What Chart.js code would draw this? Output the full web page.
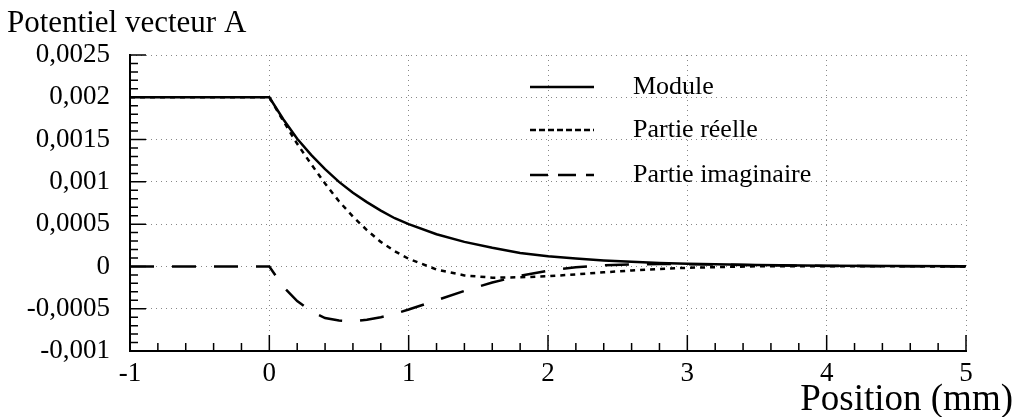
<!DOCTYPE html>
<html>
<head>
<meta charset="utf-8">
<script src="https://cdn.jsdelivr.net/npm/chart.js@4/dist/chart.umd.min.js"></script>
<style>
  html, body { margin: 0; padding: 0; background: #fff; }
  #wrap { width: 1018px; height: 417px; }
</style>
</head>
<body>
<div id="wrap"><canvas id="potChart"></canvas></div>
<script>
// Position (mm)
const positions = [-1, 0, 0.1, 0.2, 0.3, 0.4, 0.5, 0.6, 0.7, 0.8, 0.9, 1.0, 1.2, 1.4, 1.6, 1.8, 2.0, 2.2, 2.4, 2.6, 2.8, 3.0, 3.5, 4.0, 4.5, 5.0];
// Potentiel vecteur A
const moduleValues = [0.002, 0.002, 0.00174, 0.00151, 0.00132, 0.00115, 0.00100, 0.00087, 0.00076, 0.00066, 0.00057, 0.00050, 0.00038, 0.00029, 0.00022, 0.00016, 0.00012, 0.000094, 0.000071, 0.000054, 0.000041, 0.000031, 0.000016, 0.000008, 0.000004, 0.000002];
const realValues = [0.002, 0.002, 0.00172, 0.00145, 0.00121, 0.00098, 0.00077, 0.00059, 0.00043, 0.00029, 0.00018, 0.00009, -0.000036, -0.000106, -0.000133, -0.000128, -0.000116, -0.000094, -0.00007, -0.000048, -0.00003, -0.000016, 0.000002, 0.000003, 0.000001, 0];
const imagValues = [0, 0, -0.00024, -0.00041, -0.00053, -0.00061, -0.00064, -0.00065, -0.00063, -0.00060, -0.00056, -0.00051, -0.00040, -0.00029, -0.00019, -0.00011, -0.00005, -0.00001, 0.000013, 0.000024, 0.000028, 0.000027, 0.000015, 0.000005, 0.000002, 0];

const seriesLabels = ['Module', 'Partie réelle', 'Partie imaginaire'];
const yTicks = [-0.001, -0.0005, 0, 0.0005, 0.001, 0.0015, 0.002, 0.0025];
const yTickLabels = ['-0,001', '-0,0005', '0', '0,0005', '0,001', '0,0015', '0,002', '0,0025'];
const xTicks = [-1, 0, 1, 2, 3, 4, 5];

const serif = '"Liberation Serif", "DejaVu Serif", serif';
const toPoints = (vals) => positions.map((x, i) => ({ x, y: vals[i] }));

const styles = [
    { borderWidth: 2.5, borderDash: [] },
    { borderWidth: 2.5, borderDash: [5, 5] },
    { borderWidth: 2.5, borderDash: [24, 18] },
];

// inward minor/major tick marks drawn from the scales
const innerTicks = {
    id: 'innerTicks',
    afterDatasetsDraw(chart) {
        const { ctx, scales: { x, y } } = chart;
        ctx.save();
        ctx.strokeStyle = '#000';
        ctx.lineWidth = 1.5;
        ctx.beginPath();
        for (let i = 0; i <= 35; i++) {
            const v = -0.001 + i * 0.0001;
            const py = y.getPixelForValue(v);
            const len = i % 5 === 0 ? 16 : 8;
            ctx.moveTo(x.left, py);
            ctx.lineTo(x.left + len, py);
        }
        for (let i = 0; i <= 30; i++) {
            const v = -1 + i * 0.2;
            const px = x.getPixelForValue(v);
            const len = i % 5 === 0 ? 16 : 8;
            ctx.moveTo(px, y.bottom);
            ctx.lineTo(px, y.bottom - len);
        }
        ctx.stroke();
        ctx.restore();
    },
};

// legend and axis texts
const annotations = {
    id: 'annotations',
    afterDraw(chart) {
        const { ctx } = chart;
        ctx.save();
        ctx.fillStyle = '#000';
        ctx.textBaseline = 'alphabetic';
        ctx.textAlign = 'left';
        ctx.font = '31px ' + serif;
        ctx.fillText('Potentiel vecteur A', 7, 32);
        ctx.font = '37px ' + serif;
        ctx.textAlign = 'right';
        ctx.fillText('Position (mm)', 1013, 410);

        const rows = [87, 130, 175];
        ctx.font = '26px ' + serif;
        ctx.textAlign = 'left';
        ctx.textBaseline = 'middle';
        seriesLabels.forEach((label, i) => {
            ctx.save();
            ctx.lineWidth = styles[i].borderWidth;
            ctx.setLineDash(i === 2 ? [18, 10] : (i === 1 ? [6, 3] : []));
            ctx.beginPath();
            ctx.moveTo(530, rows[i]);
            ctx.lineTo(594, rows[i]);
            ctx.stroke();
            ctx.restore();
            ctx.fillText(label, 633, rows[i]);
        });
        ctx.restore();
    },
};

new Chart(document.getElementById('potChart'), {
    type: 'line',
    data: {
        datasets: [moduleValues, realValues, imagValues].map((vals, i) => ({
            label: seriesLabels[i],
            data: toPoints(vals),
            borderColor: '#000',
            borderWidth: styles[i].borderWidth,
            borderDash: styles[i].borderDash,
            pointRadius: 0,
            tension: 0,
            fill: false,
        })),
    },
    options: {
        responsive: true,
        maintainAspectRatio: false,
        animation: false,
        layout: { padding: { top: 55, right: 52, left: 0, bottom: 0 } },
        plugins: { legend: { display: false }, tooltip: { enabled: false } },
        scales: {
            x: {
                type: 'linear',
                min: -1,
                max: 5,
                afterBuildTicks: (scale) => { scale.ticks = xTicks.map((v) => ({ value: v })); },
                afterFit: (scale) => { scale.height = 66; },
                ticks: { color: '#000', font: { family: serif, size: 27 }, padding: 7, maxRotation: 0 },
                grid: { color: '#888', lineWidth: 1, drawTicks: false },
                border: { display: true, color: '#000', width: 2, dash: [1, 4] },
            },
            y: {
                min: -0.001,
                max: 0.0025,
                afterBuildTicks: (scale) => { scale.ticks = yTicks.map((v) => ({ value: v })); },
                afterFit: (scale) => { scale.width = 130; },
                ticks: {
                    color: '#000',
                    font: { family: serif, size: 27 },
                    padding: 20,
                    callback: (value) => yTickLabels[yTicks.findIndex((t) => Math.abs(t - value) < 1e-9)],
                },
                grid: { color: '#888', lineWidth: 1, drawTicks: false },
                border: { display: true, color: '#000', width: 2, dash: [1, 4] },
            },
        },
    },
    plugins: [innerTicks, annotations],
});
</script>
</body>
</html>
